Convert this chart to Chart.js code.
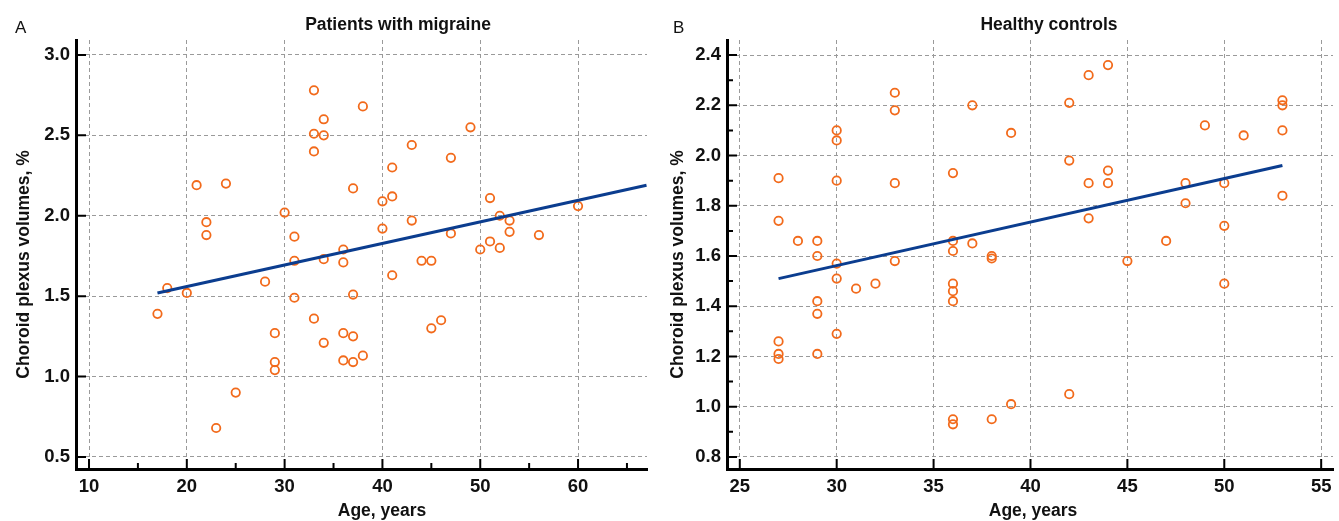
<!DOCTYPE html>
<html lang="en">
<head>
    <meta charset="UTF-8">
    <title>Choroid plexus volumes vs age</title>
    <style>
        body { margin: 0; background: #fff; }
        #wrap { position: relative; width: 1339px; height: 521px; }
        canvas { position: absolute; top: 0; }
        #chartA { left: 0; }
        #chartB { left: 660px; }
    </style>
</head>
<body>
<div id="wrap">
    <canvas id="chartA" width="660" height="521"></canvas>
    <canvas id="chartB" width="679" height="521"></canvas>
</div>

<script src="https://cdn.jsdelivr.net/npm/chart.js"></script>
<script>
    // Panel A - patients with migraine
    const ageA = [17, 18, 20, 21, 22, 22, 23, 24, 25, 28, 29, 29, 29, 30, 31, 31, 31,
                  33, 33, 33, 33, 34, 34, 34, 34, 36, 36, 36, 36, 37, 37, 37, 37, 38, 38,
                  40, 40, 41, 41, 41, 43, 43, 44, 45, 45, 46, 47, 47, 49, 50, 51, 51,
                  52, 52, 53, 53, 56, 60];
    const volA = [1.39, 1.55, 1.52, 2.19, 1.96, 1.88, 0.68, 2.20, 0.90, 1.59, 1.27, 1.09, 1.04, 2.02, 1.87, 1.72, 1.49,
                  2.78, 2.51, 2.40, 1.36, 2.60, 2.50, 1.73, 1.21, 1.79, 1.71, 1.27, 1.10, 2.17, 1.51, 1.25, 1.09, 2.68, 1.13,
                  2.09, 1.92, 2.30, 2.12, 1.63, 2.44, 1.97, 1.72, 1.72, 1.30, 1.35, 2.36, 1.89, 2.55, 1.79, 2.11, 1.84,
                  2.00, 1.80, 1.97, 1.90, 1.88, 2.06];
    const fitAgeA = [17, 67];
    const fitVolA = [1.52, 2.19];
    const xTicksA = [10, 20, 30, 40, 50, 60];
    const xMinorA = [15, 25, 35, 45, 55, 65];
    const yTicksA = [0.5, 1.0, 1.5, 2.0, 2.5, 3.0];
    const yMinorA = [];

    // Panel B - healthy controls
    const ageB = [27, 27, 27, 27, 27, 28, 29, 29, 29, 29, 29, 30, 30, 30, 30, 30, 30, 31, 32,
                  33, 33, 33, 33, 36, 36, 36, 36, 36, 36, 36, 36, 37, 37, 38, 38, 38, 39, 39,
                  42, 42, 42, 43, 43, 43, 44, 44, 44, 45, 47, 48, 48, 49, 50, 50, 50, 51,
                  53, 53, 53, 53];
    const volB = [1.91, 1.74, 1.26, 1.21, 1.19, 1.66, 1.66, 1.60, 1.42, 1.37, 1.21, 2.10, 2.06, 1.90, 1.57, 1.51, 1.29, 1.47, 1.49,
                  2.25, 2.18, 1.89, 1.58, 1.93, 1.66, 1.62, 1.49, 1.46, 1.42, 0.95, 0.93, 2.20, 1.65, 1.60, 1.59, 0.95, 2.09, 1.01,
                  2.21, 1.98, 1.05, 2.32, 1.89, 1.75, 2.36, 1.94, 1.89, 1.58, 1.66, 1.89, 1.81, 2.12, 1.89, 1.72, 1.49, 2.08,
                  2.22, 2.20, 2.10, 1.84];
    const fitAgeB = [27, 53];
    const fitVolB = [1.51, 1.96];
    const xTicksB = [25, 30, 35, 40, 45, 50, 55];
    const xMinorB = [];
    const yTicksB = [0.8, 1.0, 1.2, 1.4, 1.6, 1.8, 2.0, 2.2, 2.4];
    const yMinorB = [0.9, 1.1, 1.3, 1.5, 1.7, 1.9, 2.1, 2.3];

    const textFamily = "'Liberation Sans', Arial, sans-serif";
    const tickFont = { family: textFamily, size: 18.5, weight: 'bold' };

    // inward tick marks + panel texts
    const panelDeco = {
        id: 'panelDeco',
        afterDraw(chart, args, o) {
            const ctx = chart.ctx;
            const sx = chart.scales.x, sy = chart.scales.y;
            const a = chart.chartArea;
            ctx.save();
            ctx.strokeStyle = '#000';
            ctx.lineWidth = 2;
            ctx.beginPath();
            o.xMajor.forEach(v => { const p = sx.getPixelForValue(v); ctx.moveTo(p, a.bottom); ctx.lineTo(p, a.bottom - 10); });
            o.xMinor.forEach(v => { const p = sx.getPixelForValue(v); ctx.moveTo(p, a.bottom); ctx.lineTo(p, a.bottom - 6); });
            o.yMajor.forEach(v => { const p = sy.getPixelForValue(v); ctx.moveTo(a.left, p); ctx.lineTo(a.left + 10, p); });
            o.yMinor.forEach(v => { const p = sy.getPixelForValue(v); ctx.moveTo(a.left, p); ctx.lineTo(a.left + 6, p); });
            ctx.stroke();

            ctx.fillStyle = '#111';
            ctx.textBaseline = 'alphabetic';
            ctx.font = '17px ' + textFamily;
            ctx.textAlign = 'left';
            ctx.fillText(o.letter, o.letterX, 33);

            ctx.font = 'bold 17.5px ' + textFamily;
            ctx.textAlign = 'center';
            ctx.fillText(o.title, o.titleX, 30);
            ctx.fillText('Age, years', o.xTitleX, 516);

            ctx.translate(o.yTitleX, (a.top + a.bottom) / 2 + 10);
            ctx.rotate(-Math.PI / 2);
            ctx.fillText('Choroid plexus volumes, %', 0, 0);
            ctx.restore();
        }
    };

    function makeChart(id, ages, vols, fitX, fitY, xr, yr, xTicks, yTicks, axisW, padRight, deco) {
        const pts = ages.map((a, i) => ({ x: a, y: vols[i] }));
        const fit = fitX.map((a, i) => ({ x: a, y: fitY[i] }));
        return new Chart(document.getElementById(id), {
            type: 'scatter',
            data: {
                datasets: [
                    {
                        type: 'line',
                        data: fit,
                        borderColor: '#0b3d8f',
                        borderWidth: 3,
                        pointRadius: 0,
                        fill: false,
                        order: 0
                    },
                    {
                        data: pts,
                        pointRadius: 4.2,
                        pointBorderWidth: 1.8,
                        pointBorderColor: '#f26a1b',
                        pointBackgroundColor: 'rgba(0,0,0,0)',
                        order: 1
                    }
                ]
            },
            options: {
                responsive: false,
                animation: false,
                layout: { padding: { top: 40, right: padRight, left: 0, bottom: 0 } },
                plugins: { legend: { display: false }, tooltip: { enabled: false }, panelDeco: deco },
                scales: {
                    x: {
                        type: 'linear',
                        min: xr[0], max: xr[1],
                        afterBuildTicks: s => { s.ticks = xTicks.map(v => ({ value: v })); },
                        afterFit: s => { s.height = 52; },
                        grid: { color: '#9a9a9a', lineWidth: 1, drawTicks: false },
                        border: { display: true, color: '#000', width: 3, dash: [4, 3] },
                        ticks: { font: tickFont, color: '#111', padding: 7, autoSkip: false, maxRotation: 0 }
                    },
                    y: {
                        type: 'linear',
                        min: yr[0], max: yr[1],
                        afterBuildTicks: s => { s.ticks = yTicks.map(v => ({ value: v })); },
                        afterFit: s => { s.width = axisW; },
                        grid: { color: '#9a9a9a', lineWidth: 1, drawTicks: false },
                        border: { display: true, color: '#000', width: 3, dash: [4, 3] },
                        ticks: { font: tickFont, color: '#111', padding: 6, autoSkip: false, callback: v => v.toFixed(1) }
                    }
                }
            },
            plugins: [panelDeco]
        });
    }

    makeChart('chartA', ageA, volA, fitAgeA, fitVolA, [8.67, 67.05], [0.425, 3.093], xTicksA, yTicksA, 76, 13,
        { letter: 'A', letterX: 15, title: 'Patients with migraine', titleX: 398, xTitleX: 382, yTitleX: 29,
          xMajor: xTicksA, xMinor: xMinorA, yMajor: yTicksA, yMinor: yMinorA });

    makeChart('chartB', ageB, volB, fitAgeB, fitVolB, [24.34, 55.61], [0.752, 2.46], xTicksB, yTicksB, 67, 0,
        { letter: 'B', letterX: 13, title: 'Healthy controls', titleX: 389, xTitleX: 373, yTitleX: 23,
          xMajor: xTicksB, xMinor: xMinorB, yMajor: yTicksB, yMinor: yMinorB });
</script>
</body>
</html>
